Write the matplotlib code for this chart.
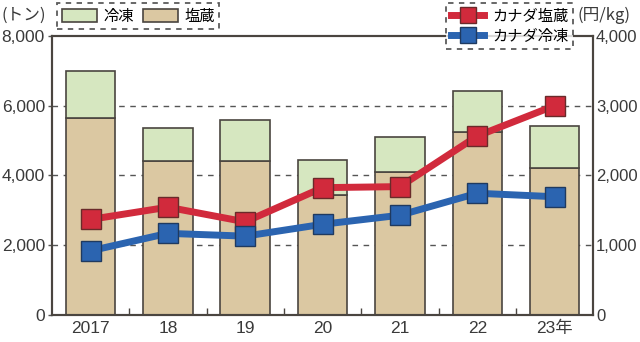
import matplotlib
matplotlib.use("Agg")
import matplotlib.pyplot as plt
from matplotlib.patches import Patch
from matplotlib.lines import Line2D

plt.rcParams['font.family'] = ['Liberation Sans', 'Noto Sans CJK JP', 'DejaVu Sans']

years = ['2017', '18', '19', '20', '21', '22', '23年']
salted = [5635, 4410, 4410, 3440, 4090, 5250, 4200]      # 塩蔵 (トン)
frozen = [1355, 940, 1170, 1000, 1020, 1170, 1215]       # 冷凍 (トン)
price_salted = [1370, 1545, 1335, 1825, 1840, 2565, 3000]  # カナダ塩蔵 (円/kg)
price_frozen = [920, 1170, 1130, 1300, 1430, 1745, 1695]   # カナダ冷凍 (円/kg)

edge = '#4a4540'
green = '#d6e7c0'
tan = '#dbc8a2'
red = '#d12a3c'
blue = '#2b64b0'
txt = '#3a3a3a'
jp = ['Noto Sans CJK JP', 'DejaVu Sans']
num = ['Liberation Sans', 'Noto Sans CJK JP']

fig = plt.figure(figsize=(6.4, 3.42), dpi=100)
ax = fig.add_axes([0.081, 0.079, 0.846, 0.816])
x = list(range(len(years)))

for y in [2000, 4000, 6000]:
    ax.axhline(y, color='#555555', lw=1, ls=(0, (4, 4)), zorder=0)
ax.bar(x, salted, width=0.64, color=tan, edgecolor=edge, lw=1.2, zorder=2)
ax.bar(x, frozen, bottom=salted, width=0.64, color=green, edgecolor=edge, lw=1.2, zorder=2)

ax.set_xlim(-0.5, 6.5)
ax.set_ylim(0, 8000)
ax.set_yticks([0, 2000, 4000, 6000, 8000])
ax.set_yticklabels(['0', '2,000', '4,000', '6,000', '8,000'])
ax.set_xticks(x)
ax.set_xticklabels(years)
ax.set_xticks([i + 0.5 for i in range(6)], minor=True)
ax.tick_params(axis='x', which='major', length=0, pad=4)
ax.tick_params(axis='x', which='minor', direction='in', length=5, color=edge, width=1)
ax.tick_params(axis='y', length=3, width=1, color='#555555', pad=2)
for lab in ax.get_xticklabels() + ax.get_yticklabels():
    lab.set_fontsize(12.5)
    lab.set_color(txt)
    lab.set_family(num)

ax2 = ax.twinx()
ax2.plot(x, price_salted, color=red, lw=5, marker='s', ms=14, mfc=red, mec='#6a2a2a', mew=1, zorder=5)
ax2.plot(x, price_frozen, color=blue, lw=5, marker='s', ms=14, mfc=blue, mec='#1f3a60', mew=1, zorder=5)
ax2.set_ylim(0, 4000)
ax2.set_yticks([0, 1000, 2000, 3000, 4000])
ax2.set_yticklabels(['0', '1,000', '2,000', '3,000', '4,000'])
ax2.tick_params(axis='y', length=0, pad=2)
for lab in ax2.get_yticklabels():
    lab.set_fontsize(12)
    lab.set_color(txt)
    lab.set_family(num)

for a in (ax, ax2):
    for s in a.spines.values():
        s.set_color(edge)
        s.set_linewidth(1.5)

fig.text(0.003, 0.955, '(トン)', fontsize=12, family=jp, color=txt, va='center')
fig.text(0.903, 0.955, '(円/kg)', fontsize=12, family=jp, color=txt, va='center')

h1 = [Patch(facecolor=green, edgecolor=edge, lw=1.2), Patch(facecolor=tan, edgecolor=edge, lw=1.2)]
leg1 = fig.legend(h1, ['冷凍', '塩蔵'], loc='upper left', bbox_to_anchor=(0.085, 1.0), ncol=2,
                  prop={'family': jp, 'size': 11}, frameon=True, fancybox=False,
                  handlelength=2.3, handleheight=1.0, columnspacing=0.6, handletextpad=0.4,
                  borderpad=0.3, borderaxespad=0.2)
leg1.get_frame().set_linestyle((0, (3, 3)))
leg1.get_frame().set_edgecolor('#333333')
leg1.get_frame().set_linewidth(1.3)

h2 = [Line2D([0], [0], color=red, lw=5, marker='s', ms=12, mfc=red, mec='#6a2a2a'),
      Line2D([0], [0], color=blue, lw=5, marker='s', ms=12, mfc=blue, mec='#1f3a60')]
leg2 = fig.legend(h2, ['カナダ塩蔵', 'カナダ冷凍'], loc='upper right', bbox_to_anchor=(0.9, 1.0),
                  prop={'family': jp, 'size': 11}, frameon=True, fancybox=False,
                  handlelength=2.2, handletextpad=0.5, borderpad=0.3, labelspacing=0.2,
                  borderaxespad=0.2)
leg2.get_frame().set_linestyle((0, (3, 3)))
leg2.get_frame().set_edgecolor('#333333')
leg2.get_frame().set_linewidth(1.3)

fig.savefig('out.png', dpi=100)
